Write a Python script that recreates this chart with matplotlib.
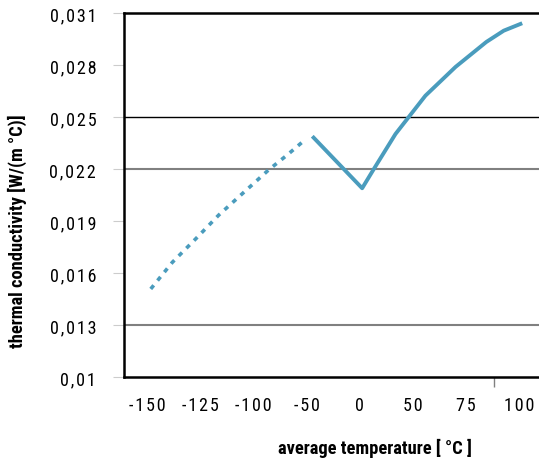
import numpy as np
import matplotlib
matplotlib.use('Agg')
import matplotlib.pyplot as plt

plt.rcParams['font.family'] = ['Roboto Condensed', 'Liberation Sans Narrow', 'DejaVu Sans']

# x tick labels are evenly spaced although their values are not
tick_temps = [-150, -125, -100, -50, 0, 50, 75, 100]
y_ticks = [0.01, 0.013, 0.016, 0.019, 0.022, 0.025, 0.028, 0.031]
y_labels = ['0,01', '0,013', '0,016', '0,019', '0,022', '0,025', '0,028', '0,031']

# dotted part (low temperature)
t_low = [-148.4, -138.2, -127.3, -116.3, -104.5, -85.5, -68.2, -52.5]
k_low = [0.01508, 0.01662, 0.01796, 0.01935, 0.02066, 0.02196, 0.02281, 0.02363]
# solid part
t_high = [-44.6, 2.4, 13.4, 33.8, 56.0, 70.2, 84.7, 92.9, 101.6]
k_high = [0.02389, 0.02089, 0.0220, 0.02402, 0.02623, 0.02789, 0.02933, 0.02998, 0.03041]

col = '#4a9cbd'
sp = '\u200a'

anch_t = np.array([-175] + tick_temps + [125], dtype=float)
anch_i = np.arange(-1, len(tick_temps) + 1, dtype=float)
def fwd(x): return np.interp(x, anch_t, anch_i)
def inv(x): return np.interp(x, anch_i, anch_t)

fig = plt.figure(figsize=(5.39, 4.64), dpi=100)
ax = fig.add_axes([124/539, 86/464, (548-124)/539, 364/464])
ax.set_xscale('function', functions=(fwd, inv))

ax.axhline(0.025, color='black', lw=1.0, zorder=1)
ax.axhline(0.022, color='#808080', lw=1.5, zorder=1)
ax.axhline(0.013, color='#808080', lw=1.5, zorder=1)

ax.plot(t_low, k_low, color=col, lw=2.6, ls=(0, (1.3, 1.7)), dash_capstyle='butt')
ax.plot(t_high, k_high, color=col, lw=2.8, solid_capstyle='butt', solid_joinstyle='round')

# left spine at index -0.44, right edge beyond the figure
ax.set_xlim(inv(-0.44), inv(7.55))
ax.set_ylim(0.01, 0.031)
ax.set_xticks(tick_temps)
ax.set_xticklabels([sp.join(str(t)) for t in tick_temps], fontsize=13)
ax.set_yticks(y_ticks)
ax.set_yticklabels([sp.join(s) for s in y_labels], fontsize=13)
ax.tick_params(axis='x', length=0, pad=14)
ax.tick_params(axis='y', length=8, color='#cccccc', pad=12)
ax.set_xticks([88.5], minor=True)
ax.tick_params(axis='x', which='minor', length=7, color='#808080', width=1)

for s in ['top', 'left', 'bottom']:
    ax.spines[s].set_linewidth(1.8)
ax.spines['right'].set_visible(False)

ax.set_xlabel('average temperature [ °C ]', fontsize=13.3, fontweight='bold')
ax.set_ylabel('thermal conductivity [W/(m °C)]', fontsize=13.3, fontweight='bold')
ax.xaxis.set_label_coords(0.592, -0.168)
ax.yaxis.set_label_coords(-0.229, 0.404)

fig.savefig('out.png', dpi=100)
